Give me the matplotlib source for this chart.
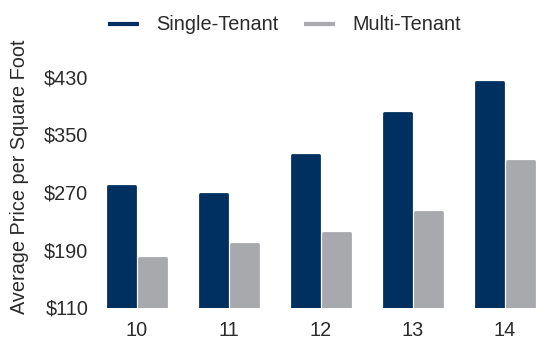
import matplotlib
matplotlib.use("Agg")
import matplotlib.pyplot as plt
from matplotlib.lines import Line2D
import numpy as np

years = ["10", "11", "12", "13", "14"]
single_tenant = [279, 267, 322, 379, 422]
multi_tenant = [178, 198, 213, 242, 313]
y_ticks = [110, 190, 270, 350, 430]

navy = "#00305f"
grey = "#a8a9ad"
text_color = "#2b2b2b"

plt.rcParams["font.family"] = ["Liberation Sans", "DejaVu Sans"]

fig = plt.figure(figsize=(5.55, 3.44), dpi=100)
ax = fig.add_axes([100 / 555, 36.5 / 344, 445 / 555, 238 / 344])

x = np.arange(len(years))
off = 0.165
w = 0.295
ax.bar(x - off, [v - 110 for v in single_tenant], bottom=110, width=w,
       color=navy, edgecolor=navy, linewidth=2, joinstyle="round")
ax.bar(x + off, [v - 110 for v in multi_tenant], bottom=110, width=w,
       color=grey, edgecolor=grey, linewidth=2, joinstyle="round")

ax.set_xlim(-0.402, 4.435)
ax.set_ylim(110, 440)
ax.set_xticks(x)
ax.set_xticklabels(years)
ax.set_yticks(y_ticks)
ax.set_yticklabels([f"${v}" for v in y_ticks])
ax.tick_params(axis="both", length=0, labelsize=14.3, colors=text_color)
ax.tick_params(axis="y", pad=8.5)
ax.tick_params(axis="x", pad=9.5)
for s in ax.spines.values():
    s.set_visible(False)

fig.text(20 / 555, 1 - 177 / 344, "Average Price per Square Foot", rotation=90,
         ha="center", va="center", fontsize=14.3, color=text_color)

handles = [Line2D([], [], color=navy, linewidth=3, solid_capstyle="butt"),
           Line2D([], [], color=grey, linewidth=3, solid_capstyle="butt")]
fig.legend(handles, ["Single-Tenant", "Multi-Tenant"], loc="center",
           bbox_to_anchor=(284.5 / 555, 1 - 25 / 344), ncol=2, frameon=False,
           fontsize=14.3, handlelength=1.55, handletextpad=0.85,
           columnspacing=1.3, labelcolor=text_color)

fig.savefig("out.png", dpi=100, facecolor="white")
